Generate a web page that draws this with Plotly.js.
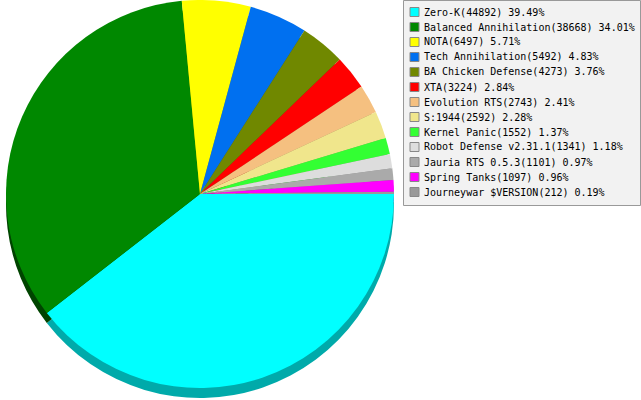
<!DOCTYPE html>
<html>
<head>
<meta charset="utf-8">
<script src="https://cdn.plot.ly/plotly-3.0.1.min.js"></script>
<style>html,body{margin:0;padding:0;background:#fff;}#chart{width:641px;height:400px;}</style>
</head>
<body>
<div id="chart"></div>
<script>
const labels = ["Zero-K","Balanced Annihilation","NOTA","Tech Annihilation","BA Chicken Defense","XTA","Evolution RTS","S:1944","Kernel Panic","Robot Defense v2.31.1","Jauria RTS 0.5.3","Spring Tanks","Journeywar $VERSION"];
const values = [44892,38668,6497,5492,4273,3224,2743,2592,1552,1341,1101,1097,212];
const colors = ["#00ffff","#008800","#ffff00","#0070f0","#708800","#ff0000","#f5c080","#f0e68c","#33ff33","#dddddd","#aaaaaa","#ff00ff","#999999"];
const sideColors = ["#00aaaa","#004400","#aaaa00","#004aa0","#4a5a00","#aa0000","#a38055","#a0995d","#22aa22","#939393","#717171","#aa00aa","#666666"];

const W = 641, H = 400;
const total = values.reduce((a,b)=>a+b,0);
const legendText = labels.map((l,i)=> l + "(" + values[i] + ") " + (values[i]/total*100).toFixed(2) + "%");

// pie geometry in pixels
const cx = 200, cy = 194, r = 194, depth = 10;
const dom = (dy) => ({
  x: [(cx-r)/W, (cx+r)/W],
  y: [(H-(cy+dy)-r)/H, (H-(cy+dy)+r)/H]
});

const common = {
  type: "pie", values: values, sort: false, direction: "clockwise", rotation: 90,
  textinfo: "none", hoverinfo: "label+value+percent", showlegend: false
};
const sideTrace = Object.assign({}, common, {
  labels: labels.map(l => l + " "), domain: dom(depth),
  marker: {colors: sideColors, line: {width: 0}}
});
const faceTrace = Object.assign({}, common, {
  labels: labels, domain: dom(0),
  marker: {colors: colors, line: {width: 0}}
});

// legend built from the arrays
const px = (x)=> x/W, py = (y)=> 1 - y/H;
const shapes = [{
  type: "rect", xref: "paper", yref: "paper",
  x0: px(403.5), x1: px(640.5), y0: py(205.5), y1: py(0.5),
  fillcolor: "#f2f2f2", line: {color: "#999999", width: 1}, layer: "below"
}];
const annotations = [];
labels.forEach((l,i)=>{
  const yc = 12 + 15*i;
  shapes.push({type:"rect", xref:"paper", yref:"paper",
    x0: px(410), x1: px(419), y0: py(yc+4.5), y1: py(yc-4.5),
    fillcolor: colors[i], line: {color: "#888888", width: 1}});
  annotations.push({xref:"paper", yref:"paper", x: px(422), y: py(yc),
    xanchor:"left", yanchor:"middle", showarrow:false, text: legendText[i],
    font:{family:"DejaVu Sans Mono, monospace", size:10, color:"#000"}});
});

Plotly.newPlot("chart", [sideTrace, faceTrace], {
  width: W, height: H, margin: {l:0,r:0,t:0,b:0},
  paper_bgcolor: "#ffffff", plot_bgcolor: "#ffffff",
  showlegend: false, shapes: shapes, annotations: annotations
}, {displayModeBar: false, staticPlot: true});
</script>
</body>
</html>
